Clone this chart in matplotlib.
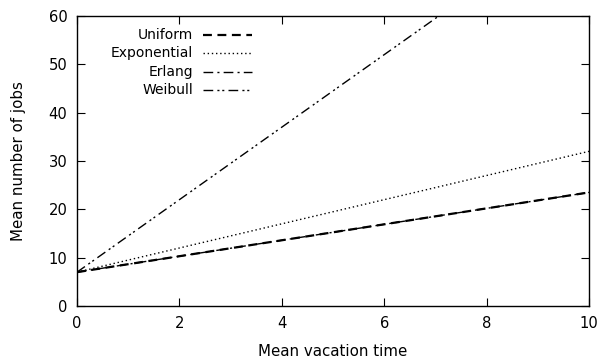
import numpy as np
import matplotlib.pyplot as plt
from matplotlib.lines import Line2D

# mean vacation time
x = [0, 1, 2, 3, 4, 5, 6, 7, 8, 9, 10]
uniform = [7.0, 8.65, 10.3, 11.95, 13.6, 15.25, 16.9, 18.55, 20.2, 21.85, 23.5]
exponential = [7.0, 9.5, 12.0, 14.5, 17.0, 19.5, 22.0, 24.5, 27.0, 29.5, 32.0]
erlang = [7.0, 8.65, 10.3, 11.95, 13.6, 15.25, 16.9, 18.55, 20.2, 21.85, 23.5]
weibull = [7.0, 14.5, 22.0, 29.5, 37.0, 44.5, 52.0, 59.5, 67.0, 74.5, 82.0]

names = ["Uniform", "Exponential", "Erlang", "Weibull"]
series = [uniform, exponential, erlang, weibull]
styles = [
    dict(ls=(0, (4, 2.5)), lw=1.6),
    dict(ls=(0, (1, 2)), lw=1.0),
    dict(ls=(0, (7, 3, 1.5, 3)), lw=1.0),
    dict(ls=(0, (7, 3, 1.5, 2, 1.5, 3)), lw=1.0),
]

plt.rcParams['font.family'] = 'DejaVu Sans'
plt.rcParams['font.size'] = 10

fig = plt.figure(figsize=(6.02, 3.58), dpi=100)
# axes box: px 77..589 horizontally, 16..306 vertically
ax = fig.add_axes([77 / 602, 52 / 358, 512 / 602, 290 / 358])

for y, st in zip(series, styles):
    ax.plot(x, y, color='black', **st)

ax.set_xlim(0, 10)
ax.set_ylim(0, 60)
ax.set_xticks([0, 2, 4, 6, 8, 10])
ax.set_yticks([0, 10, 20, 30, 40, 50, 60])
ax.tick_params(direction='in', length=6, width=0.8, top=True, right=True, labelsize=10.6)
ax.tick_params(axis='x', pad=7.5)
ax.tick_params(axis='y', pad=7)
for s in ax.spines.values():
    s.set_linewidth(1.0)

ax.set_xlabel("Mean vacation time", fontsize=10.8, labelpad=9)
ax.set_ylabel("Mean number of jobs", fontsize=10.8, labelpad=16)

# hand-made legend, gnuplot style (text right aligned, sample after it)
rows = [0.934, 0.873, 0.808, 0.745]
for name, st, yy in zip(names, styles, rows):
    ax.text(0.2266, yy, name, transform=ax.transAxes, ha='right', va='center')
    ax.add_line(Line2D([0.2455, 0.3412], [yy, yy], transform=ax.transAxes, color='black', **st))

fig.savefig("out.png", dpi=100)
